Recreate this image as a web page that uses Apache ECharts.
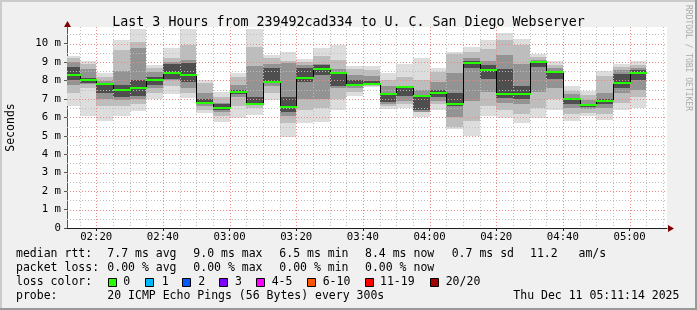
<!DOCTYPE html>
<html><head><meta charset="utf-8">
<script src="https://cdn.jsdelivr.net/npm/echarts@6/dist/echarts.min.js"></script>
<style>html,body{margin:0;padding:0;background:#f0f0f0;}#c{width:697px;height:310px;}</style>
</head><body><div id="c"></div>
<script>
const FONT = "'DejaVu Sans Mono', monospace";
// ---- data ----
const barStart = ['02:10','02:15','02:20','02:25','02:30','02:35','02:40','02:45','02:50','02:55',
  '03:00','03:05','03:10','03:15','03:20','03:25','03:30','03:35','03:40','03:45',
  '03:50','03:55','04:00','04:05','04:10','04:15','04:20','04:25','04:30','04:35',
  '04:40','04:45','04:50','04:55','05:00'];
const median = [8.29,8.02,7.80,7.49,7.60,8.00,8.41,8.29,6.79,6.52,
  7.38,6.72,7.93,6.57,8.14,8.61,8.41,7.78,7.80,7.26,
  7.65,7.15,7.33,6.72,8.97,8.57,7.26,7.26,9.00,8.46,
  6.99,6.66,6.90,7.87,8.41];
// smoke layers: outermost (min..max) to innermost
const l1Lo = [6.60,6.10,5.82,6.10,6.34,6.97,7.24,7.03,6.22,5.77, 5.95,6.13,6.94,4.93,5.70,5.75,6.40,7.15,7.62,6.47, 6.50,6.00,6.42,5.35,5.00,6.05,5.95,5.70,5.97,6.40, 5.82,6.05,5.86,6.40,6.50];
const l1Hi = [9.35,9.05,8.43,10.18,10.77,8.83,9.75,10.81,8.05,7.38, 8.40,10.81,9.40,9.55,9.15,9.75,9.90,8.78,8.79,8.43, 8.92,9.24,8.65,9.57,9.82,10.18,10.60,10.27,9.46,9.05, 7.69,7.43,8.50,8.92,9.05];
const l2Lo = [7.30,7.60,6.60,6.60,6.70,7.30,7.70,7.30,6.40,6.10, 6.60,6.50,7.30,5.70,6.40,6.50,7.00,7.40,7.70,6.60, 6.70,6.30,6.70,5.50,5.80,6.60,6.40,6.20,6.50,7.00, 6.20,6.25,6.20,6.80,7.10];
const l2Hi = [9.20,8.90,8.20,9.65,10.10,8.65,9.20,9.90,7.85,7.10, 8.20,9.80,9.20,9.05,9.00,9.35,9.10,8.60,8.55,8.00, 8.20,8.00,8.45,9.45,9.55,9.70,10.20,9.95,9.30,8.85, 7.45,7.20,8.25,8.75,8.85];
const l3Lo = [7.75,7.80,7.00,6.95,7.00,7.60,8.00,7.60,6.60,6.30, 7.10,6.65,7.70,6.10,7.00,7.00,7.60,7.60,7.75,6.75, 6.90,6.30,6.90,6.00,6.90,7.40,6.80,6.70,7.40,7.60, 6.50,6.45,6.50,7.30,7.50];
const l3Hi = [9.00,8.60,7.95,8.50,9.75,8.45,9.00,9.10,7.30,6.80, 7.75,8.80,8.90,8.95,8.85,8.90,8.60,8.30,8.25,7.70, 7.70,7.50,7.90,8.40,9.20,9.05,9.40,8.90,9.10,8.65, 7.25,6.95,7.30,8.55,8.70];
const l4Lo = [8.00,7.85,7.30,7.10,7.15,7.75,8.10,7.90,6.70,6.40, 7.25,6.68,7.85,6.30,7.90,8.30,7.70,7.75,7.78,6.85, 7.15,6.40,7.10,6.60,8.70,8.10,7.05,7.00,8.75,8.10, 6.70,6.55,6.75,7.60,8.00];
const l4Hi = [8.75,8.15,7.85,7.75,8.05,8.20,8.90,8.95,7.00,6.70, 7.50,7.10,8.70,7.10,8.70,8.85,8.45,8.00,7.95,7.25, 7.65,7.15,7.50,7.30,9.05,8.85,8.60,7.70,9.05,8.50, 7.05,6.75,7.00,8.35,8.55];
const xTickLabels = ['02:20','02:40','03:00','03:20','03:40','04:00','04:20','04:40','05:00'];
const yTickValues = [0,1,2,3,4,5,6,7,8,9,10];
const yTickLabels = ['0','1 m','2 m','3 m','4 m','5 m','6 m','7 m','8 m','9 m','10 m'];
const windowStart = '02:11:14', windowEnd = '05:11:14';
const lossLabels = ['0','1','2','3','4-5','6-10','11-19','20/20'];
const lossColors = ['#26ff00','#00b8ff','#0059ff','#7e00ff','#ff00ff','#ff5500','#ff0000','#a10000'];

// ---- helpers ----
function toMin(s){const p=s.split(':').map(Number);return p[0]*60+p[1]+(p[2]||0)/60;}
const STEP = 5;
const XMIN = toMin(windowStart), XMAX = toMin(windowEnd);
const xTickValues = xTickLabels.map(toMin);
const xMinorGrid = []; for(let t=toMin('02:15'); t<XMAX; t+=STEP){ if(xTickValues.indexOf(t)<0) xMinorGrid.push(t); }
const yMinorGrid = []; for(let v=0.5; v<10.9; v+=1) yMinorGrid.push(v);
const yMajorGrid = yTickValues.slice(1);

const chart = echarts.init(document.getElementById('c'), null, {renderer:'canvas'});

function clipRect(params, x0, y0, x1, y1){
  const cs = params.coordSys;
  return echarts.graphic.clipRectByRect({x:x0,y:y0,width:x1-x0,height:y1-y0},{x:cs.x,y:cs.y,width:cs.width,height:cs.height});
}
function band(lo, hi, color){
  return {type:'custom', silent:true, z:2,
    data: barStart.map((t,i)=>[toMin(t), toMin(t)+STEP, lo[i], hi[i]]),
    encode:{x:[0,1], y:[2,3]},
    renderItem(params, api){
      const a = api.coord([api.value(0), api.value(3)]);
      const b = api.coord([api.value(1), api.value(2)]);
      const r = clipRect(params, Math.round(a[0]), Math.round(a[1]), Math.round(b[0]), Math.round(b[1]));
      if(!r) return null;
      return {type:'rect', shape:r, style:{fill:color}};
    }};
}
function gridLines(vals, dir, color){
  return {type:'custom', silent:true, z:3,
    data: vals.map(v=> dir==='x' ? [v, 0] : [XMIN, v]),
    encode:{x:0, y:1},
    renderItem(params, api){
      const cs = params.coordSys;
      const p = api.coord([api.value(0), api.value(1)]);
      let shape;
      if(dir==='x'){ const x=Math.round(p[0])+0.5; shape={x1:x,y1:cs.y,x2:x,y2:cs.y+cs.height}; }
      else { const y=Math.round(p[1])+0.5; shape={x1:cs.x,y1:y,x2:cs.x+cs.width,y2:y}; }
      return {type:'line', shape, style:{stroke:color, lineWidth:1, lineDash:[1,2]}};
    }};
}

const series = [
  band(l1Lo, l1Hi, '#dddddd'),
  band(l2Lo, l2Hi, '#bdbdbd'),
  band(l3Lo, l3Hi, '#939393'),
  band(l4Lo, l4Hi, '#4e4e4e'),
  gridLines(xMinorGrid, 'x', '#bdbdbd'),
  gridLines(yMinorGrid, 'y', '#bdbdbd'),
  gridLines(xTickValues, 'x', '#e88a8a'),
  gridLines(yMajorGrid, 'y', '#e88a8a'),
  // black step connectors of the median
  {type:'custom', silent:true, z:4,
    data: barStart.map((t,i)=>[toMin(t), i>0?median[i-1]:median[i], median[i]]),
    encode:{x:0, y:[1,2]},
    renderItem(params, api){
      const cs = params.coordSys;
      const a = api.coord([api.value(0), api.value(1)]);
      const b = api.coord([api.value(0), api.value(2)]);
      if(a[0] < cs.x) return null;
      const x = Math.round(a[0])+0.5;
      return {type:'line', shape:{x1:x,y1:Math.round(a[1]),x2:x,y2:Math.round(b[1])}, style:{stroke:'#000', lineWidth:1}};
    }},
  // green median segments (loss 0)
  {type:'custom', silent:true, z:5,
    data: barStart.map((t,i)=>[toMin(t), toMin(t)+STEP, median[i]]),
    encode:{x:[0,1], y:2},
    renderItem(params, api){
      const a = api.coord([api.value(0), api.value(2)]);
      const b = api.coord([api.value(1), api.value(2)]);
      const y = Math.round(a[1]);
      const r = clipRect(params, Math.round(a[0]), y-1, Math.round(b[0])+1, y+1);
      if(!r) return null;
      return {type:'rect', shape:r, style:{fill:lossColors[0]}};
    }}
];

const txt = (x, y, text, extra) => Object.assign({type:'text', x, y, silent:true,
  style:{text, font:'11.5px '+FONT, fill:'#000', textVerticalAlign:'middle', verticalAlign:'middle'}}, extra||{});

const legendRows = [
  [16,254,'median rtt:'],[107.3,254,'7.7 ms avg'],[193.3,254,'9.0 ms max'],[279.3,254,'6.5 ms min'],
  [365,254,'8.4 ms now'],[451.7,254,'0.7 ms sd'],[530,254,'11.2   am/s'],
  [16,268,'packet loss:'],[107.3,268,'0.00 % avg'],[193.3,268,'0.00 % max'],[279.3,268,'0.00 % min'],[365,268,'0.00 % now'],
  [16,282,'loss color:'],
  [16,296,'probe:'],[107.3,296,'20 ICMP Echo Pings (56 Bytes) every 300s'],[513.3,296,'Thu Dec 11 05:11:14 2025']
];
const boxX = [108.5,145.5,182.5,219.5,256.5,307.5,365.5,430.5];
const boxLabelX = [123.3,161.7,198.3,235,271.7,322.7,380,445.7];

const graphics = [
  {type:'rect', shape:{x:0,y:0,width:697,height:2}, style:{fill:'#cbcbcb'}, silent:true},
  {type:'rect', shape:{x:0,y:0,width:2,height:310}, style:{fill:'#cbcbcb'}, silent:true},
  {type:'rect', shape:{x:0,y:308,width:697,height:2}, style:{fill:'#999999'}, silent:true},
  {type:'rect', shape:{x:695,y:0,width:2,height:310}, style:{fill:'#999999'}, silent:true},
  {type:'text', x:688, y:5, rotation:-Math.PI/2, silent:true,
    style:{text:'RRDTOOL / TOBI OETIKER', font:'8px '+FONT, fill:'#aaaaaa', textVerticalAlign:'middle', verticalAlign:'middle', textAlign:'left', align:'left'}}
];
legendRows.forEach(r=>graphics.push(txt(r[0], r[1], r[2])));
lossLabels.forEach((l,i)=>{
  graphics.push({type:'rect', silent:true, shape:{x:boxX[i], y:278.5, width:8, height:8}, style:{fill:lossColors[i], stroke:'#000', lineWidth:1}});
  graphics.push(txt(boxLabelX[i], 282, l));
});

chart.setOption({
  animation:false,
  backgroundColor:'#f0f0f0',
  title:{text:'Last 3 Hours from 239492cad334 to U. C. San Diego Webserver', left:'center', top:11,
    textStyle:{fontFamily:FONT, fontSize:13.3, fontWeight:'normal', color:'#000'}},
  grid:{left:67, right:30, top:27, bottom:82, show:true, backgroundColor:'#ffffff', borderWidth:0,
    containLabel:false, outerBoundsMode:'none'},
  xAxis:{type:'value', min:XMIN, max:XMAX, splitLine:{show:false},
    axisLine:{show:true, onZero:false, lineStyle:{color:'#1f1f1f', width:1}},
    axisTick:{show:true, customValues:xTickValues, length:3, lineStyle:{color:'#1f1f1f'}},
    axisLabel:{customValues:xTickValues, margin:4, fontFamily:FONT, fontSize:10.7, color:'#000',
      formatter:v=>{const i=xTickValues.findIndex(t=>Math.abs(t-v)<1e-6);return i>=0?xTickLabels[i]:'';}}},
  yAxis:{type:'value', min:0, max:10.9, splitLine:{show:false},
    name:'Seconds', nameLocation:'middle', nameGap:50, nameRotate:90,
    nameTextStyle:{fontFamily:FONT, fontSize:11.5, color:'#000'},
    axisLine:{show:true, lineStyle:{color:'#555', width:1}},
    axisTick:{show:true, customValues:yTickValues, length:3, lineStyle:{color:'#555'}},
    axisLabel:{customValues:yTickValues, margin:6, fontFamily:FONT, fontSize:10.7, color:'#000',
      formatter:v=>{const i=yTickValues.indexOf(Math.round(v));return i>=0?yTickLabels[i]:'';}}},
  series,
  graphic:graphics
});

// axis arrows (dark red, as in rrdtool)
const o = chart.convertToPixel({gridIndex:0}, [XMIN, 0]);
const e = chart.convertToPixel({gridIndex:0}, [XMAX, 10.9]);
chart.setOption({graphic: graphics.concat([
  {type:'polygon', silent:true, shape:{points:[[e[0]+1,o[1]-3],[e[0]+7,o[1]+0.5],[e[0]+1,o[1]+4]]}, style:{fill:'#7f0000'}},
  {type:'polygon', silent:true, shape:{points:[[o[0]-3,e[1]],[o[0]+0.5,e[1]-6],[o[0]+4,e[1]]]}, style:{fill:'#7f0000'}}
])});
</script></body></html>
